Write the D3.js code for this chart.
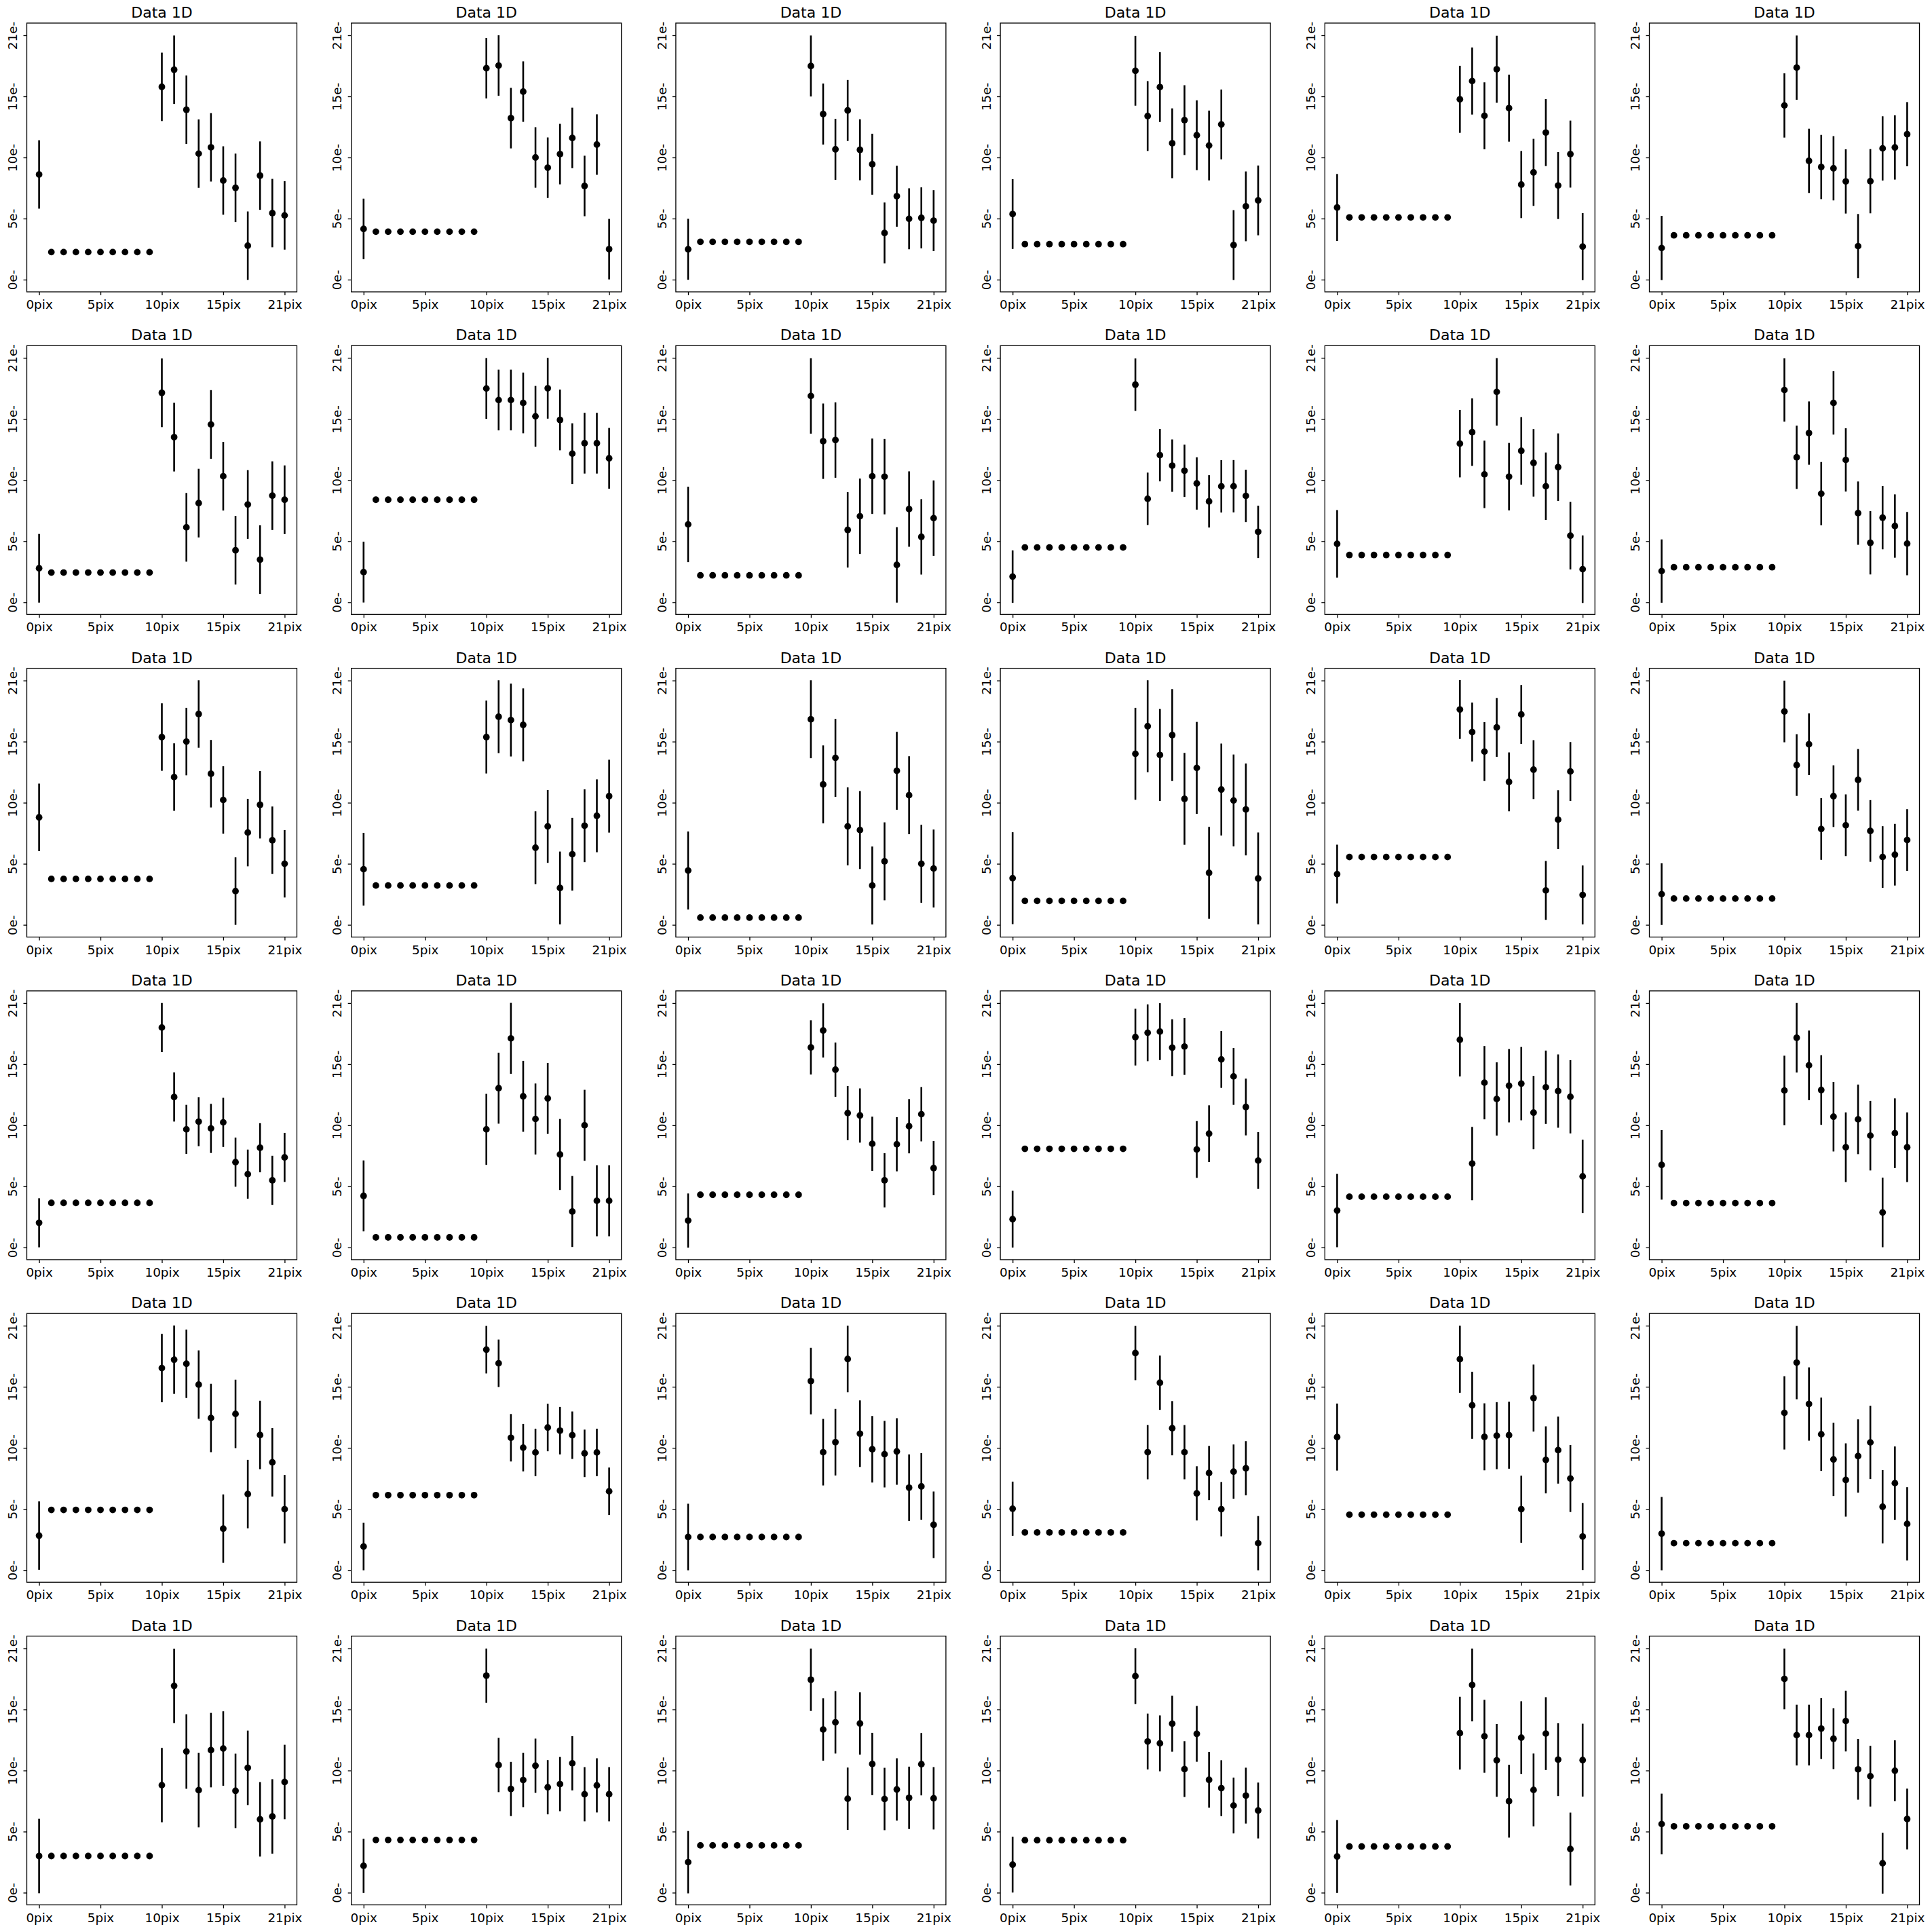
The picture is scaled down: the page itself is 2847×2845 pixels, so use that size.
<!DOCTYPE html>
<html>
<head>
<meta charset="utf-8">
<script src="https://cdn.jsdelivr.net/npm/d3@7"></script>
<style>
  html, body { margin: 0; padding: 0; background: #ffffff; }
  svg { display: block; }
  text { font-family: "DejaVu Sans", sans-serif; fill: #000; }
</style>
</head>
<body>
<script>
// ---------------- DATA ----------------
const panelTitle = "Data 1D";
const xPositions = [0, 1.05, 2.1, 3.15, 4.2, 5.25, 6.3, 7.35, 8.4, 9.45, 10.5, 11.55, 12.6, 13.65, 14.7, 15.75, 16.8, 17.85, 18.9, 19.95, 21];
const xTickValues = [0, 5.25, 10.5, 15.75, 21];
const xTickLabels = ["0pix", "5pix", "10pix", "15pix", "21pix"];
const yTickValues = [0, 5.25, 10.5, 15.75, 21];
const yTickLabels = ["0e-", "5e-", "10e-", "15e-", "21e-"];
// indices of points drawn with error bars
const errorBarIndices = [0, 10, 11, 12, 13, 14, 15, 16, 17, 18, 19, 20];

// one series per panel, row by row (21 values each)
const seriesValues = [
  [9.04, 2.37, 2.37, 2.37, 2.37, 2.37, 2.37, 2.37, 2.37, 2.37, 16.57, 18.04, 14.60, 10.83, 11.37, 8.52, 7.89, 2.92, 8.94, 5.72, 5.52],
  [4.36, 4.12, 4.12, 4.12, 4.12, 4.12, 4.12, 4.12, 4.12, 4.12, 18.17, 18.40, 13.88, 16.16, 10.50, 9.62, 10.79, 12.18, 8.05, 11.61, 2.62],
  [2.61, 3.25, 3.25, 3.25, 3.25, 3.25, 3.25, 3.25, 3.25, 3.25, 18.36, 14.23, 11.20, 14.54, 11.16, 9.92, 4.01, 7.17, 5.23, 5.31, 5.07],
  [5.64, 3.05, 3.05, 3.05, 3.05, 3.05, 3.05, 3.05, 3.05, 3.05, 17.95, 14.06, 16.55, 11.72, 13.71, 12.41, 11.53, 13.34, 2.97, 6.30, 6.81],
  [6.20, 5.35, 5.35, 5.35, 5.35, 5.35, 5.35, 5.35, 5.35, 5.35, 15.50, 17.07, 14.08, 18.08, 14.74, 8.17, 9.22, 12.64, 8.09, 10.79, 2.84],
  [2.72, 3.81, 3.81, 3.81, 3.81, 3.81, 3.81, 3.81, 3.81, 3.81, 14.97, 18.22, 10.21, 9.68, 9.57, 8.44, 2.88, 8.46, 11.28, 11.36, 12.50],

  [2.92, 2.55, 2.55, 2.55, 2.55, 2.55, 2.55, 2.55, 2.55, 2.55, 18.00, 14.19, 6.44, 8.52, 15.28, 10.83, 4.47, 8.40, 3.66, 9.16, 8.81],
  [2.59, 8.81, 8.81, 8.81, 8.81, 8.81, 8.81, 8.81, 8.81, 8.81, 18.37, 17.38, 17.38, 17.13, 15.98, 18.39, 15.67, 12.77, 13.67, 13.67, 12.37],
  [6.69, 2.31, 2.31, 2.31, 2.31, 2.31, 2.31, 2.31, 2.31, 2.31, 17.73, 13.84, 13.94, 6.22, 7.39, 10.83, 10.79, 3.21, 8.01, 5.62, 7.23],
  [2.20, 4.71, 4.71, 4.71, 4.71, 4.71, 4.71, 4.71, 4.71, 4.71, 18.70, 8.89, 12.64, 11.74, 11.30, 10.21, 8.67, 9.96, 9.97, 9.14, 6.05],
  [5.02, 4.06, 4.06, 4.06, 4.06, 4.06, 4.06, 4.06, 4.06, 4.06, 13.63, 14.62, 10.99, 18.08, 10.79, 13.01, 11.98, 9.97, 11.61, 5.72, 2.84],
  [2.68, 3.01, 3.01, 3.01, 3.01, 3.01, 3.01, 3.01, 3.01, 3.01, 18.24, 12.46, 14.54, 9.33, 17.13, 12.23, 7.66, 5.11, 7.27, 6.55, 5.04],

  [9.24, 3.95, 3.95, 3.95, 3.95, 3.95, 3.95, 3.95, 3.95, 3.95, 16.14, 12.70, 15.75, 18.12, 12.99, 10.73, 2.90, 7.93, 10.32, 7.27, 5.25],
  [4.78, 3.38, 3.38, 3.38, 3.38, 3.38, 3.38, 3.38, 3.38, 3.38, 16.14, 17.89, 17.60, 17.19, 6.63, 8.46, 3.17, 6.07, 8.52, 9.37, 11.06],
  [4.67, 0.62, 0.62, 0.62, 0.62, 0.62, 0.62, 0.62, 0.62, 0.62, 17.67, 12.07, 14.35, 8.46, 8.15, 3.38, 5.46, 13.24, 11.14, 5.25, 4.84],
  [4.01, 2.06, 2.06, 2.06, 2.06, 2.06, 2.06, 2.06, 2.06, 2.06, 14.70, 17.07, 14.60, 16.31, 10.83, 13.49, 4.47, 11.63, 10.69, 9.92, 3.99],
  [4.36, 5.83, 5.83, 5.83, 5.83, 5.83, 5.83, 5.83, 5.83, 5.83, 18.51, 16.57, 14.89, 16.97, 12.29, 18.08, 13.34, 2.96, 9.04, 13.18, 2.57],
  [2.64, 2.26, 2.26, 2.26, 2.26, 2.26, 2.26, 2.26, 2.26, 2.26, 18.34, 13.73, 15.52, 8.24, 11.06, 8.56, 12.46, 8.07, 5.83, 6.03, 7.29],

  [2.12, 3.83, 3.83, 3.83, 3.83, 3.83, 3.83, 3.83, 3.83, 3.83, 18.90, 12.93, 10.15, 10.81, 10.23, 10.75, 7.33, 6.30, 8.57, 5.77, 7.74],
  [4.43, 0.87, 0.87, 0.87, 0.87, 0.87, 0.87, 0.87, 0.87, 0.87, 10.15, 13.69, 17.97, 12.99, 11.04, 12.81, 7.99, 3.09, 10.50, 4.01, 4.01],
  [2.31, 4.53, 4.53, 4.53, 4.53, 4.53, 4.53, 4.53, 4.53, 4.53, 17.19, 18.65, 15.28, 11.55, 11.34, 8.91, 5.77, 8.87, 10.42, 11.45, 6.82],
  [2.43, 8.48, 8.48, 8.48, 8.48, 8.48, 8.48, 8.48, 8.48, 8.48, 18.08, 18.45, 18.55, 17.17, 17.27, 8.42, 9.78, 16.16, 14.70, 12.07, 7.47],
  [3.17, 4.36, 4.36, 4.36, 4.36, 4.36, 4.36, 4.36, 4.36, 4.36, 17.85, 7.21, 14.16, 12.76, 13.90, 14.08, 11.59, 13.77, 13.44, 12.95, 6.11],
  [7.10, 3.81, 3.81, 3.81, 3.81, 3.81, 3.81, 3.81, 3.81, 3.81, 13.49, 18.02, 15.65, 13.53, 11.24, 8.61, 11.01, 9.61, 3.01, 9.82, 8.61],

  [2.96, 5.17, 5.17, 5.17, 5.17, 5.17, 5.17, 5.17, 5.17, 5.17, 17.36, 18.08, 17.73, 15.94, 13.07, 3.56, 13.42, 6.53, 11.61, 9.26, 5.23],
  [2.02, 6.44, 6.44, 6.44, 6.44, 6.44, 6.44, 6.44, 6.44, 6.44, 18.94, 17.77, 11.37, 10.52, 10.11, 12.25, 11.98, 11.59, 10.03, 10.11, 6.77],
  [2.84, 2.84, 2.84, 2.84, 2.84, 2.84, 2.84, 2.84, 2.84, 2.84, 16.24, 10.13, 10.99, 18.14, 11.72, 10.38, 9.96, 10.19, 7.08, 7.19, 3.89],
  [5.27, 3.23, 3.23, 3.23, 3.23, 3.23, 3.23, 3.23, 3.23, 3.23, 18.65, 10.13, 16.10, 12.19, 10.13, 6.59, 8.34, 5.23, 8.46, 8.75, 2.31],
  [11.43, 4.76, 4.76, 4.76, 4.76, 4.76, 4.76, 4.76, 4.76, 4.76, 18.12, 14.16, 11.45, 11.55, 11.59, 5.23, 14.78, 9.47, 10.31, 7.87, 2.88],
  [3.13, 2.31, 2.31, 2.31, 2.31, 2.31, 2.31, 2.31, 2.31, 2.31, 13.51, 17.83, 14.27, 11.67, 9.51, 7.74, 9.80, 10.97, 5.44, 7.47, 3.97],

  [3.15, 3.15, 3.15, 3.15, 3.15, 3.15, 3.15, 3.15, 3.15, 3.15, 9.24, 17.77, 12.13, 8.81, 12.25, 12.39, 8.75, 10.73, 6.30, 6.55, 9.51],
  [2.31, 4.53, 4.53, 4.53, 4.53, 4.53, 4.53, 4.53, 4.53, 4.53, 18.65, 10.97, 8.91, 9.68, 10.91, 9.06, 9.33, 11.12, 8.46, 9.22, 8.46],
  [2.62, 4.06, 4.06, 4.06, 4.06, 4.06, 4.06, 4.06, 4.06, 4.06, 18.30, 14.02, 14.64, 8.07, 14.54, 11.06, 8.05, 8.87, 8.15, 11.04, 8.11],
  [2.41, 4.51, 4.51, 4.51, 4.51, 4.51, 4.51, 4.51, 4.51, 4.51, 18.61, 12.99, 12.83, 14.52, 10.62, 13.65, 9.70, 8.98, 7.49, 8.34, 7.06],
  [3.11, 3.97, 3.97, 3.97, 3.97, 3.97, 3.97, 3.97, 3.97, 3.97, 13.71, 17.85, 13.44, 11.37, 7.86, 13.32, 8.83, 13.67, 11.43, 3.75, 11.39],
  [5.90, 5.70, 5.70, 5.70, 5.70, 5.70, 5.70, 5.70, 5.70, 5.70, 18.37, 13.54, 13.54, 14.10, 13.23, 14.75, 10.60, 10.01, 2.53, 10.48, 6.33]
];

// half length of the error bars in each panel
const errorValues = [
  2.94, 2.60, 2.62, 3.00, 2.88, 2.76,
  2.95, 2.61, 3.24, 2.25, 2.90, 2.72,
  2.90, 3.13, 3.35, 3.95, 2.53, 2.65,
  2.11, 3.05, 2.33, 2.44, 3.15, 2.99,
  2.94, 2.04, 2.86, 2.33, 2.88, 3.15,
  3.20, 2.33, 2.68, 2.40, 3.13, 2.61
];

// ---------------- LAYOUT ----------------
const W = 2847, H = 2845;
const nCols = 6, nRows = 6;
const axLeft0 = 39.5, colPitch = 478.2, axW = 398;
const axTop0 = 34, rowPitch = 475.3, axH = 396;
const domain = [-1.05, 22.05];

const svg = d3.select("body").append("svg")
  .attr("width", W).attr("height", H)
  .attr("viewBox", `0 0 ${W} ${H}`);
svg.append("rect").attr("width", W).attr("height", H).attr("fill", "#ffffff");

seriesValues.forEach((vals, k) => {
  const r = Math.floor(k / nCols), c = k % nCols;
  const left = axLeft0 + c * colPitch;
  const top = axTop0 + r * rowPitch;
  const err = errorValues[k];

  const x = d3.scaleLinear().domain(domain).range([0, axW]);
  const y = d3.scaleLinear().domain(domain).range([axH, 0]);

  const g = svg.append("g").attr("transform", `translate(${left},${top})`);

  // error bars
  const pts = vals.map((v, i) => ({ x: xPositions[i], v: v, i: i }));
  g.append("g").selectAll("line")
    .data(pts.filter(d => errorBarIndices.includes(d.i)))
    .join("line")
    .attr("x1", d => x(d.x)).attr("x2", d => x(d.x))
    .attr("y1", d => y(d.v - err)).attr("y2", d => y(d.v + err))
    .attr("stroke", "#000").attr("stroke-width", 2.6);

  // markers
  g.append("g").selectAll("circle")
    .data(pts)
    .join("circle")
    .attr("cx", d => x(d.x)).attr("cy", d => y(d.v))
    .attr("r", 4.9).attr("fill", "#000");

  // x axis
  const xAxis = d3.axisBottom(x)
    .tickValues(xTickValues)
    .tickFormat((d, i) => xTickLabels[i])
    .tickSize(5).tickSizeOuter(0);
  const gx = g.append("g").attr("transform", `translate(0,${axH})`).call(xAxis);
  gx.select(".domain").remove();
  gx.selectAll(".tick line").attr("stroke", "#000").attr("stroke-width", 1.3);
  gx.selectAll(".tick text")
    .attr("y", 25).attr("dy", null)
    .attr("font-size", "18.4px")
    .attr("font-family", "DejaVu Sans")
    .attr("fill", "#000");

  // y axis
  const yAxis = d3.axisLeft(y)
    .tickValues(yTickValues)
    .tickFormat((d, i) => yTickLabels[i])
    .tickSize(5).tickSizeOuter(0);
  const gy = g.append("g").call(yAxis);
  gy.select(".domain").remove();
  gy.selectAll(".tick line").attr("stroke", "#000").attr("stroke-width", 1.3);
  gy.selectAll(".tick text")
    .attr("x", null).attr("dy", null)
    .attr("text-anchor", "middle")
    .attr("transform", "translate(-14.3,0) rotate(-90)")
    .attr("font-size", "18.4px")
    .attr("font-family", "DejaVu Sans")
    .attr("fill", "#000");

  // frame
  g.append("rect")
    .attr("x", 0).attr("y", 0).attr("width", axW).attr("height", axH)
    .attr("fill", "none").attr("stroke", "#000").attr("stroke-width", 1.3);

  // title
  g.append("text")
    .attr("x", axW / 2).attr("y", -8)
    .attr("text-anchor", "middle")
    .attr("font-size", "22px")
    .text(panelTitle);
});
</script>
</body>
</html>
